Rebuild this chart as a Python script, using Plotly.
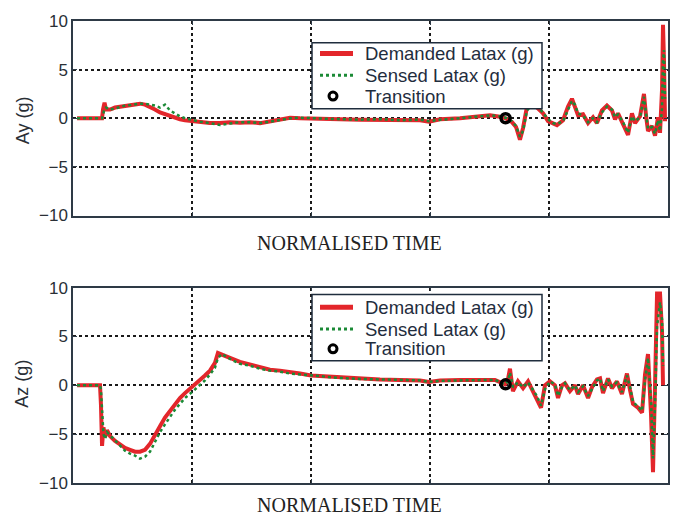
import plotly.graph_objects as go

# ---------------- data (normalised time, g) ----------------
t_top = [0.034, 0.143, 0.244, 0.252, 0.265, 0.277, 0.311, 0.353, 0.395, 0.437, 0.479, 0.521, 0.563, 0.605,
         0.647, 0.689, 0.731, 0.773, 0.815, 0.857, 0.899, 0.941, 1.0, 1.067, 1.151, 1.235, 1.319, 1.403,
         1.487, 1.571, 1.655, 1.739, 1.824, 1.908, 2.0, 2.076, 2.244, 2.412, 2.580, 2.748, 2.916, 2.992,
         3.084, 3.252, 3.420, 3.504, 3.588,
         3.635, 3.689, 3.723, 3.756, 3.782, 3.815, 3.857, 3.908, 3.950, 3.992, 4.034, 4.067, 4.118, 4.160,
         4.193, 4.218, 4.244, 4.286, 4.328, 4.370, 4.403, 4.445, 4.487, 4.529, 4.555, 4.580, 4.622, 4.664,
         4.697, 4.723, 4.765, 4.798, 4.815, 4.832, 4.866, 4.891, 4.916, 4.933, 4.950, 4.958, 4.966, 4.975]
ay_demanded = [0, 0.05, 0, 0.9, 1.6, 0.9, 0.9, 1.1, 1.2, 1.3, 1.4, 1.45, 1.5, 1.4,
               1.2, 0.9, 0.6, 0.4, 0.3, 0.1, -0.1, -0.2, -0.3, -0.4, -0.5, -0.5, -0.4, -0.45,
               -0.4, -0.5, -0.3, -0.2, 0.05, 0, 0, -0.05, -0.1, -0.15, -0.15, -0.2, -0.2, -0.35,
               -0.1, 0, 0.2, 0.3, 0.15,
               0.0, -0.4, -0.9, -2.2, -1.0, 1.2, 1.6, 1.0, 0.5, -0.3, -0.5, -0.7, -0.2, 1.2,
               2.0, 1.1, 0.3, 0.4, -0.5, 0.1, -0.5, 0.8, 1.3, 0.8, -0.1, 0.5, -0.5, -1.7,
               0.5, -0.5, 0.2, 2.5, 0.3, -1.3, -0.8, -1.8, 0.1, -1.5, 3.0, 9.6, 6.0, -0.3]
ay_sensed = [0, 0, 0, 0.3, 1.0, 1.1, 0.9, 1.0, 1.15, 1.3, 1.35, 1.45, 1.5, 1.5,
             1.4, 1.3, 1.1, 1.4, 0.8, 0.5, 0.2, 0.0, -0.2, -0.35, -0.5, -0.7, -0.55, -0.4,
             -0.4, -0.5, -0.35, -0.2, 0, 0.05, 0, -0.05, -0.1, -0.15, -0.1, -0.2, -0.15, -0.3,
             -0.15, 0, 0.15, 0.3, 0.2,
             0.05, -0.3, -0.8, -1.9, -1.3, 0.8, 1.4, 1.2, 0.6, -0.1, -0.5, -0.6, -0.3, 0.9,
             1.8, 1.4, 0.5, 0.3, -0.4, 0.0, -0.4, 0.6, 1.2, 0.9, 0.1, 0.4, -0.4, -1.5,
             0.2, -0.3, 0.1, 2.2, 0.7, -1.1, -0.9, -1.6, -0.2, -1.3, 1.0, 6.0, 7.0, 2.0]

t_bot = [0.034, 0.143, 0.227, 0.235, 0.244, 0.256, 0.269, 0.286, 0.311, 0.353, 0.395, 0.437, 0.479, 0.521,
         0.563, 0.605, 0.647, 0.689, 0.731, 0.773, 0.815, 0.857, 0.899, 0.941, 1.0, 1.067, 1.109, 1.151,
         1.193, 1.218, 1.252, 1.319, 1.403, 1.487, 1.571, 1.655, 1.739, 1.824, 1.908, 2.0, 2.118, 2.244,
         2.412, 2.580, 2.748, 2.916, 2.992, 3.084, 3.252, 3.420, 3.546,
         3.630, 3.655, 3.672, 3.697, 3.739, 3.782, 3.824, 3.866, 3.899, 3.933, 3.966, 4.008, 4.050, 4.076,
         4.109, 4.134, 4.176, 4.218, 4.244, 4.286, 4.328, 4.361, 4.403, 4.429, 4.454, 4.496, 4.529, 4.571,
         4.613, 4.655, 4.681, 4.706, 4.748, 4.782, 4.807, 4.832, 4.857, 4.874, 4.891, 4.908, 4.933, 4.950,
         4.958]
az_demanded = [0, 0, 0, -2, -6.2, -4.3, -5.3, -4.6, -5.2, -5.7, -6.1, -6.4, -6.6, -6.8,
               -6.8, -6.6, -6.0, -5.0, -4.2, -3.3, -2.6, -1.9, -1.3, -0.8, -0.2, 0.5, 1.0, 1.5,
               2.3, 3.3, 3.1, 2.8, 2.4, 2.1, 1.8, 1.6, 1.5, 1.3, 1.2, 1.0, 0.9, 0.8,
               0.7, 0.6, 0.55, 0.5, 0.35, 0.5, 0.55, 0.6, 0.55,
               0.1, 0.6, 1.7, -0.6, 0.4, -0.3, 0.4, -0.6, -1.3, -2.3, 0.0, 0.4, 0.0, -1.3,
               0.0, 0.2, -0.6, 0.0, -0.9, 0.0, -1.3, -0.2, 0.6, 0.7, -0.8, 0.7, -0.3, 0.4,
               -0.9, 1.2, -0.5, -1.9, -2.3, -2.8, 1.1, 3.2, -2.9, -8.9, 0.0, 9.4, 9.4, 5.4,
               0.0]
az_sensed = [0, 0, 0, -0.5, -3.0, -5.0, -5.5, -4.8, -5.1, -5.6, -6.2, -6.7, -7.0, -7.2,
             -7.5, -7.3, -6.8, -5.8, -4.8, -4.0, -3.2, -2.5, -1.9, -1.3, -0.7, 0.0, 0.5, 1.1,
             1.8, 2.8, 3.2, 2.7, 2.2, 2.0, 1.7, 1.5, 1.4, 1.2, 1.1, 1.0, 0.85, 0.75,
             0.65, 0.6, 0.5, 0.5, 0.35, 0.45, 0.5, 0.55, 0.55,
             0.1, 0.4, 1.3, -0.2, 0.3, -0.2, 0.3, -0.5, -1.1, -2.1, -0.4, 0.4, 0.1, -1.1,
             -0.2, 0.2, -0.5, 0.0, -0.7, -0.1, -1.1, -0.4, 0.5, 0.7, -0.6, 0.6, -0.1, 0.3,
             -0.7, 1.0, -0.2, -1.7, -2.2, -2.6, 0.5, 2.8, -1.5, -7.5, -2.0, 6.0, 8.5, 6.7,
             2.0]

transition_t = 3.635
transition_ay = 0.0
transition_az = 0.1

names = ["Demanded Latax (g)", "Sensed Latax (g)", "Transition"]
y_titles = ["Ay (g)", "Az (g)"]
x_title = "NORMALISED TIME"

# ---------------- style ----------------
RED = "#e3262b"
GREEN = "#1b8a36"
TXT = "#1f2d3d"
W, H = 683, 521
ML, MR, MT, MB = 73, 15, 15, 38
PW = W - ML - MR
PH = H - MT - MB
dom_top = [0.579, 1.0]
dom_bot = [0.0, 0.423]

fig = go.Figure()

panels = [
    (t_top, ay_demanded, ay_sensed, transition_ay, "x", "y"),
    (t_bot, az_demanded, az_sensed, transition_az, "x2", "y2"),
]
for t, dem, sen, ty, xa, ya in panels:
    fig.add_trace(go.Scatter(x=t, y=dem, mode="lines", name=names[0], xaxis=xa, yaxis=ya, showlegend=False,
                             line=dict(color=RED, width=4)))
    fig.add_trace(go.Scatter(x=t, y=sen, mode="lines", name=names[1], xaxis=xa, yaxis=ya, showlegend=False,
                             line=dict(color=GREEN, width=2.5, dash="dot")))
    fig.add_trace(go.Scatter(x=[transition_t], y=[ty], mode="markers", name=names[2], xaxis=xa, yaxis=ya,
                             showlegend=False,
                             marker=dict(color="black", size=9, symbol="circle-open",
                                         line=dict(color="black", width=3.5))))

axis_common = dict(showline=True, linecolor="#2e3a46", linewidth=1.5, mirror="ticks",
                   ticks="inside", ticklen=4, tickcolor="#2e3a46",
                   showgrid=True, gridcolor="#1a1a1a", gridwidth=1.5, griddash="dot", zeroline=False)
xaxis_cfg = dict(range=[0, 5], dtick=1, tick0=0, showticklabels=False, **axis_common)
yaxis_cfg = dict(range=[-10, 10], dtick=5, tick0=-10,
                 tickfont=dict(family="Liberation Sans, Arial, sans-serif", size=17, color="#2a2f36"),
                 **axis_common)

fig.update_layout(
    width=W, height=H,
    margin=dict(l=ML, r=MR, t=MT, b=MB),
    paper_bgcolor="white", plot_bgcolor="white",
    xaxis=dict(domain=[0, 1], anchor="y", **xaxis_cfg),
    yaxis=dict(domain=dom_top, anchor="x", **yaxis_cfg),
    xaxis2=dict(domain=[0, 1], anchor="y2", **xaxis_cfg),
    yaxis2=dict(domain=dom_bot, anchor="x2", **yaxis_cfg),
    showlegend=False,
)

# ---------------- legend boxes (MATLAB style, drawn with shapes + text) ----------------
def px_x(px):
    return (px - ML) / PW

def legend_box(xd, yd, dom, top_off, rows_off, height):
    dh = (dom[1] - dom[0]) * PH
    fy = lambda off: 1 - off / dh
    ref = dict(xref=xd + " domain", yref=yd + " domain")
    fig.add_shape(type="rect", x0=px_x(312), x1=px_x(542), y0=fy(top_off + height), y1=fy(top_off),
                  line=dict(color="#1f2d3d", width=1.5), fillcolor="white", layer="above", **ref)
    ry = [fy(top_off + r) for r in rows_off]
    fig.add_shape(type="line", x0=px_x(320), x1=px_x(353), y0=ry[0], y1=ry[0],
                  line=dict(color=RED, width=5), layer="above", **ref)
    fig.add_shape(type="line", x0=px_x(320), x1=px_x(353), y0=ry[1], y1=ry[1],
                  line=dict(color=GREEN, width=3, dash="dot"), layer="above", **ref)
    r = 4
    fig.add_shape(type="circle", x0=px_x(333 - r), x1=px_x(333 + r), y0=ry[2] - r / dh, y1=ry[2] + r / dh,
                  line=dict(color="black", width=3), fillcolor="white", layer="above", **ref)
    for name, y in zip(names, ry):
        fig.add_annotation(text=name, x=px_x(363), y=y, xanchor="left", yanchor="middle", showarrow=False,
                           font=dict(family="Liberation Sans, Arial, sans-serif", size=18.5, color=TXT), **ref)

legend_box("x", "y", dom_top, 22, [11, 33, 54], 67)
legend_box("x2", "y2", dom_bot, 7, [13, 35, 55], 67)

# axis titles
for yp in [0.519, -0.047]:
    fig.add_annotation(text=x_title, xref="paper", yref="paper", x=0.464, y=yp, showarrow=False,
                       xanchor="center", yanchor="middle",
                       font=dict(family="Liberation Serif, Times New Roman, serif", size=20, color="#222"))
for txt, yp in zip(y_titles, [0.786, 0.216]):
    fig.add_annotation(text=txt, xref="paper", yref="paper", x=-0.085, y=yp, showarrow=False,
                       textangle=-90, xanchor="center", yanchor="middle",
                       font=dict(family="Liberation Sans, Arial, sans-serif", size=18, color="#2a2f36"))

fig.write_html("out.html")
